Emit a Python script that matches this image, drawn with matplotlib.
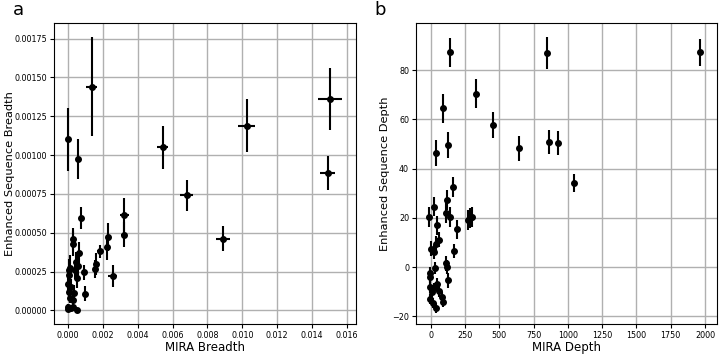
import numpy as np
import matplotlib.pyplot as plt

# panel a: MIRA breadth vs enhanced sequence breadth
breadth_x = [0.0000, 0.00056, 0.00136, 0.00543, 0.01025, 0.01502, 0.01489,
             0.00681, 0.00887, 0.00323, 0.00319, 0.00231, 0.00222, 0.00183,
             0.00159, 0.00155, 0.00256, 0.00075, 0.00027, 0.00030, 0.00065,
             0.00092, 0.00097, 0.00053, 0.00000, 0.00011, 0.00000, 0.00028,
             0.00040, 0.00055, 0.00050, 0.00020, 0.00006, 0.00036, 0.00010,
             0.00030, 0.00017, 0.00006, 0.00044, 0.00007, 0.00001]
breadth_y = [0.00110, 0.000976, 0.00144, 0.00105, 0.00119, 0.001362, 0.000882,
             0.000740, 0.000461, 0.000611, 0.000487, 0.000470, 0.000405, 0.000380,
             0.000296, 0.000265, 0.000220, 0.000594, 0.000457, 0.000430, 0.000369,
             0.000245, 0.000107, 0.000000, 0.000010, 0.000274, 0.000167, 0.000020,
             0.000260, 0.000285, 0.000206, 0.000152, 0.000120, 0.000110, 0.000077,
             0.000066, 0.000013, 0.000227, 0.000313, 0.000260, 0.000023]
breadth_xerr = [0.00003, 0.00003, 0.00033, 0.00033, 0.0005, 0.00067, 0.00043,
                0.00038, 0.0004, 0.00027, 0.00015, 0.00012, 0.00010, 0.00015,
                0.00010, 0.00008, 0.00026, 0.00006, 0.00005, 0.00005, 0.00006,
                0.00008, 0.00010, 0.00006, 0.00003, 0.00005, 0.00004, 0.00005,
                0.00005, 0.00006, 0.00005, 0.00004, 0.00004, 0.00005, 0.00004,
                0.00004, 0.00004, 0.00004, 0.00005, 0.00004, 0.00003]
breadth_yerr = [0.0002, 0.00013, 0.00032, 0.00014, 0.00017, 0.0002, 0.00011,
                0.0001, 0.00008, 0.00011, 0.00008, 0.00009, 0.00008, 0.00004,
                0.00007, 0.00006, 0.00007, 0.00007, 0.00007, 0.00008, 0.00007,
                0.00005, 0.00005, 0.00001, 0.00001, 0.00008, 0.00005, 0.00002,
                0.00006, 0.00007, 0.00006, 0.00005, 0.00004, 0.00005, 0.00003,
                0.00003, 0.00001, 0.00006, 0.00006, 0.00007, 0.00002]

# panel b: MIRA depth vs enhanced sequence depth
depth_x = [138.7, 844.5, 1963, 90, 326, 455, 36.5, 121.6, 642, 863.5, 925,
           1044, 163, -12, 22, 114.6, 109.5, 138.7, 41.6, 192, 272, 285, 297,
           -2, 22, 61, 36.5, 168, 109.5, 119, 126, 31.4, -7, -7, -7, 46, 61,
           -7, 12, 36.5, 78, 90, 5, 20]
depth_y = [87.2, 87.0, 87.2, 64.4, 70.4, 57.7, 46.4, 49.5, 48.2, 50.9, 50.5,
           34.2, 32.5, 20.3, 24.6, 27.1, 21.9, 20.3, 16.9, 15.3, 19.2, 20.0, 20.3,
           7.4, 6.1, 11.2, 9.5, 6.5, 1.6, 0.0, -5.4, -0.3, -2.4, -4.1, -8.1, -6.8,
           -9.5, -12.9, -14.6, -16.5, -12.2, -14.2, -10.2, -8.5]
depth_yerr = [5.8, 6.5, 5.5, 5.7, 6.0, 5.3, 5.3, 5.2, 5.0, 4.8, 4.8,
              3.7, 4.0, 4.0, 4.0, 4.0, 4.0, 4.0, 4.0, 4.0, 4.0, 4.0, 4.0,
              3.0, 3.0, 3.0, 3.0, 3.0, 3.0, 3.0, 3.0, 2.5, 2.5, 2.5, 2.5, 2.5,
              2.5, 2.0, 2.0, 2.0, 2.0, 2.0, 2.0, 2.0]

fig = plt.figure(figsize=(7.2, 3.54), dpi=100)
axa = fig.add_axes([54/720, 30/354, 302/720, 301/354])
axb = fig.add_axes([416/720, 30/354, 301/720, 301/354])

axa.errorbar(breadth_x, breadth_y, xerr=breadth_xerr, yerr=breadth_yerr,
             fmt='o', color='black', ms=4, elinewidth=1.5, zorder=3)
axa.set_xlim(-0.0008, 0.01652)
axa.set_ylim(-0.000088, 0.00185)
axa.set_xticks(np.arange(0, 0.0161, 0.002))
axa.set_yticks(np.arange(0, 0.00176, 0.00025))
axa.set_xlabel('MIRA Breadth', fontsize=8.5, labelpad=1)
axa.set_ylabel('Enhanced Sequence Breadth', fontsize=8.2)
axa.yaxis.set_label_coords(-0.128, 0.5)

axb.errorbar(depth_x, depth_y, yerr=depth_yerr,
             fmt='o', color='black', ms=4, elinewidth=1.5, zorder=3)
axb.set_xlim(-109, 2088)
axb.set_ylim(-23.1, 99.1)
axb.set_xticks(np.arange(0, 2001, 250))
axb.set_yticks(np.arange(-20, 81, 20))
axb.set_xlabel('MIRA Depth', fontsize=8.5, labelpad=1)
axb.set_ylabel('Enhanced Sequence Depth', fontsize=8.2)
axb.yaxis.set_label_coords(-0.088, 0.5)

for ax in (axa, axb):
    ax.grid(True, color='#b0b0b0', lw=1)
    ax.set_axisbelow(True)
    ax.tick_params(labelsize=5.8, pad=2, length=3)

fig.text(13/720, 1 - 10/354, 'a', fontsize=13, va='center', ha='left')
fig.text(374/720, 1 - 10/354, 'b', fontsize=13, va='center', ha='left')

fig.savefig('out.png', dpi=100)
